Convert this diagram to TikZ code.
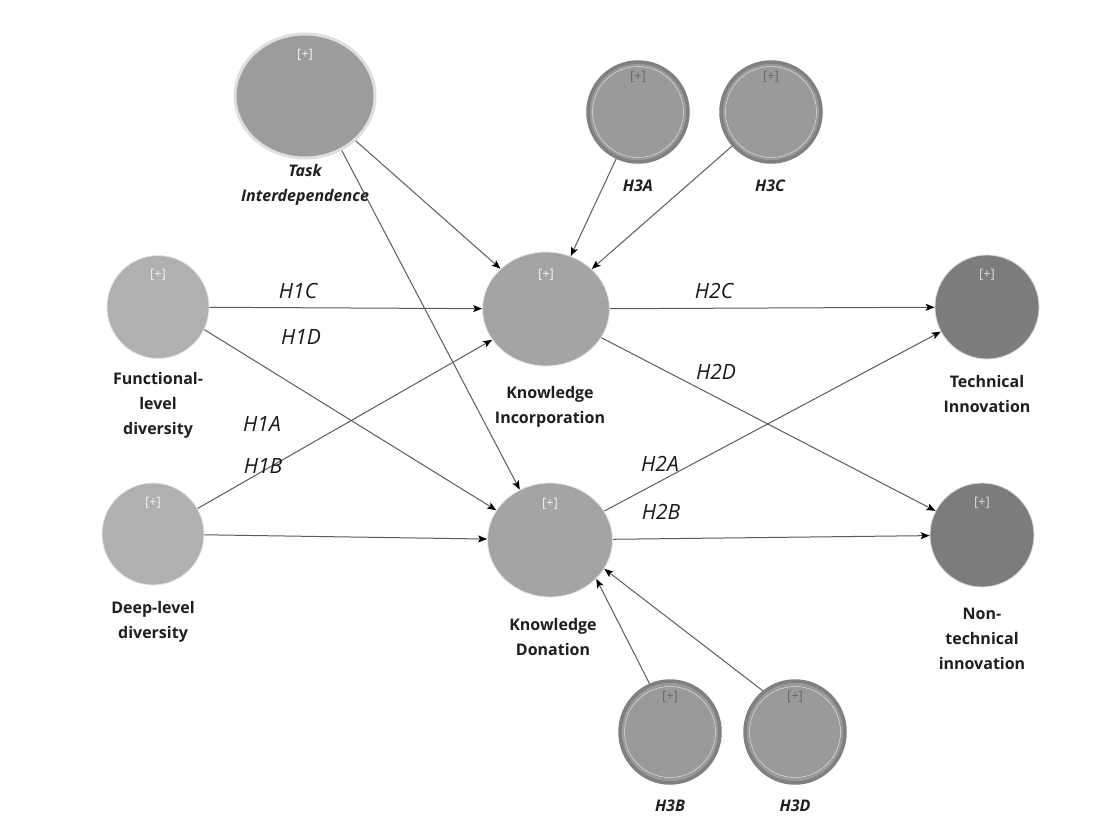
\documentclass[tikz,border=0pt]{standalone}
\usepackage{fontspec}
\setmainfont{Open Sans}
\usetikzlibrary{shapes.geometric,arrows.meta,calc}
\definecolor{lightfill}{HTML}{B0B0B0}
\definecolor{midfill}{HTML}{A4A4A4}
\definecolor{taskfill}{HTML}{9C9C9C}
\definecolor{hfill}{HTML}{9A9A9A}
\definecolor{hring}{HTML}{808080}
\definecolor{darkfill}{HTML}{7C7C7C}
\definecolor{linecol}{HTML}{5C5C5C}
\begin{document}
\begin{tikzpicture}[x=1pt,y=-1pt,
  latent/.style={ellipse, inner sep=0pt},
  lab/.style={font=\bfseries\fontsize{16}{25}\selectfont, align=center, text=black!88},
  blab/.style={font=\bfseries\itshape\fontsize{16}{25}\selectfont, align=center, text=black!88},
  hyp/.style={font=\itshape\fontsize{21}{24}\selectfont, text=black!90},
  plus/.style={font=\fontsize{13}{13}\selectfont, text=white!88!gray, inner sep=0pt},
  arr/.style={draw=linecol, line width=1pt, -{Stealth[length=9pt,width=7pt,inset=2pt,black]}},
]
\useasboundingbox[fill=white] (0,0) rectangle (1119,831);

% latent variables
\node[latent, fill=taskfill, draw=white!75!gray, line width=3pt, minimum width=140, minimum height=124] (task) at (305,96) {};
\node[latent, fill=hfill, draw=hring, line width=3.5pt, minimum width=100, minimum height=100] (h3a) at (638,112) {};
\node[latent, fill=hfill, draw=hring, line width=3.5pt, minimum width=100, minimum height=100] (h3c) at (771,112) {};
\node[latent, fill=lightfill, draw=white!80!gray, line width=0.8pt, minimum width=102, minimum height=103] (func) at (158,307) {};
\node[latent, fill=midfill, draw=white!80!gray, line width=0.8pt, minimum width=127, minimum height=114] (ki) at (546,309) {};
\node[latent, fill=darkfill, draw=white!70!gray, line width=0.8pt, minimum width=104, minimum height=104] (ti) at (987,307) {};
\node[latent, fill=lightfill, draw=white!80!gray, line width=0.8pt, minimum width=102, minimum height=102] (deep) at (153,534) {};
\node[latent, fill=midfill, draw=white!80!gray, line width=0.8pt, minimum width=125, minimum height=114] (kd) at (550,540) {};
\node[latent, fill=darkfill, draw=white!70!gray, line width=0.8pt, minimum width=104, minimum height=104] (nt) at (982,535) {};
\node[latent, fill=hfill, draw=hring, line width=3.5pt, minimum width=100, minimum height=102] (h3b) at (670,732) {};
\node[latent, fill=hfill, draw=hring, line width=3.5pt, minimum width=100, minimum height=102] (h3d) at (795,732) {};

% inner thin rings of H3 nodes
\foreach \n in {h3a,h3c,h3b,h3d}{
  \draw[white!75!gray, line width=0.5pt] (\n.center) ellipse (45.5 and 45.5);
}

% [+] markers
\node[plus] (ptask) at ($(task.north)+(0,22)$) {[+]};
\node[plus, text=hring!80!black] (ph3a) at ($(h3a.north)+(0,17)$) {[+]};
\node[plus, text=hring!80!black] (ph3c) at ($(h3c.north)+(0,17)$) {[+]};
\node[plus] (pfunc) at ($(func.north)+(0,20)$) {[+]};
\node[plus] (pki) at ($(ki.north)+(0,23)$) {[+]};
\node[plus, text=white!70!gray] (pti) at ($(ti.north)+(0,20)$) {[+]};
\node[plus] (pdeep) at ($(deep.north)+(0,20)$) {[+]};
\node[plus] (pkd) at ($(kd.north)+(0,21)$) {[+]};
\node[plus, text=white!70!gray] (pnt) at ($(nt.north)+(0,20)$) {[+]};
\node[plus, text=hring!80!black] (ph3b) at ($(h3b.north)+(0,18)$) {[+]};
\node[plus, text=hring!80!black] (ph3d) at ($(h3d.north)+(0,18)$) {[+]};

% variable labels
\node[blab] (ltask) at (305,185) {Task\\Interdependence};
\node[blab] (lh3a) at (638,186) {H3A};
\node[blab] (lh3c) at (770,186) {H3C};
\node[lab] (lfunc) at (158,405) {Functional-\\level\\diversity};
\node[lab] (lki) at (550,407) {Knowledge\\Incorporation};
\node[lab] (lti) at (987,394) {Technical\\Innovation};
\node[lab] (ldeep) at (153,622) {Deep-level\\diversity};
\node[lab] (lkd) at (553,637) {Knowledge\\Donation};
\node[lab] (lnt) at (982,639) {Non-\\technical\\innovation};
\node[blab] (lh3b) at (670,806) {H3B};
\node[blab] (lh3d) at (795,806) {H3D};

% paths
\draw[arr] (task) -- (ki);
\draw[arr] (task.-56) -- (kd.121);
\draw[arr] (h3a) -- (ki);
\draw[arr] (h3c) -- (ki);
\draw[arr] (func) -- (ki);
\draw[arr] (func.-26) -- (kd.151);
\draw[arr] (deep) -- (ki);
\draw[arr] (deep) -- (kd);
\draw[arr] (ki) -- (ti);
\draw[arr] (ki) -- (nt);
\draw[arr] (kd) -- (ti);
\draw[arr] (kd) -- (nt);
\draw[arr] (h3b.113) -- (kd.-40);
\draw[arr] (h3d.128) -- (kd.-28);

% hypothesis labels
\node[hyp] (t1c) at (298,291) {H1C};
\node[hyp] (t1d) at (301,337) {H1D};
\node[hyp] (t1a) at (262,424) {H1A};
\node[hyp] (t1b) at (263,466) {H1B};
\node[hyp] (t2c) at (714,291) {H2C};
\node[hyp] (t2d) at (716,372) {H2D};
\node[hyp] (t2a) at (660,464) {H2A};
\node[hyp] (t2b) at (661,512) {H2B};
\end{tikzpicture}
\end{document}
